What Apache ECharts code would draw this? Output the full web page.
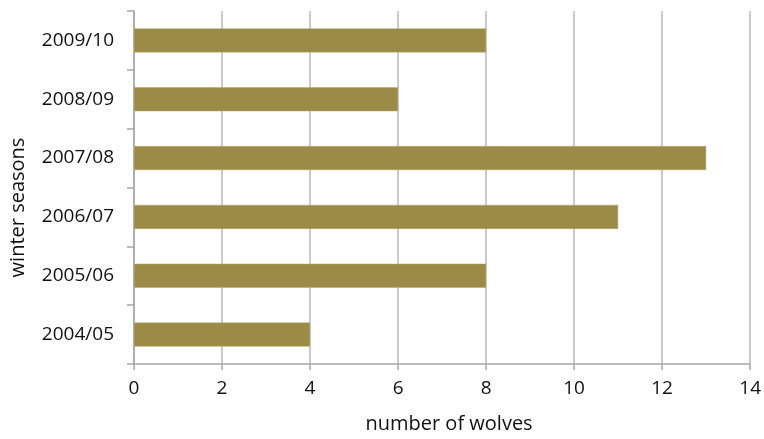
<!DOCTYPE html>
<html>
<head>
<meta charset="utf-8">
<script src="https://cdn.jsdelivr.net/npm/echarts@6/dist/echarts.min.js"></script>
<style>html,body{margin:0;padding:0;background:#fff;}#c{width:764px;height:439px;}</style>
</head>
<body>
<div id="c"></div>
<script>
const categories = ['2004/05', '2005/06', '2006/07', '2007/08', '2008/09', '2009/10'];
const wolves = [4, 8, 11, 13, 6, 8];
const xTicks = { min: 0, max: 14, interval: 2 };
const xName = 'number of wolves';
const yName = 'winter seasons';

const chart = echarts.init(document.getElementById('c'));
const font = '"Open Sans", sans-serif';
chart.setOption({
  animation: false,
  backgroundColor: '#ffffff',
  grid: { left: 133, right: 13, top: 11, bottom: 73 },
  xAxis: {
    type: 'value',
    min: xTicks.min, max: xTicks.max, interval: xTicks.interval,
    name: xName, nameLocation: 'middle', nameGap: 50,
    nameTextStyle: { fontFamily: font, fontSize: 20, color: '#111111', padding: [0, 0, 0, 14] },
    axisLine: { show: true, lineStyle: { color: '#a6a6a6', width: 1.5 } },
    axisTick: { show: true, length: 6, lineStyle: { color: '#a6a6a6', width: 1.5 } },
    axisLabel: { fontFamily: font, fontSize: 19, color: '#111111', margin: 15 },
    splitLine: { show: true, lineStyle: { color: '#b8b8b8', width: 1.5 } }
  },
  yAxis: {
    type: 'category',
    data: categories,
    name: yName, nameLocation: 'middle', nameGap: 106, nameRotate: 90,
    nameTextStyle: { fontFamily: font, fontSize: 20, color: '#111111', padding: [0, 40, 0, 0] },
    axisLine: { show: true, lineStyle: { color: '#a6a6a6', width: 1.5 } },
    axisTick: { show: true, length: 7, alignWithLabel: false, lineStyle: { color: '#a6a6a6', width: 1.5 } },
    axisLabel: { fontFamily: font, fontSize: 19, color: '#111111', margin: 20 },
    splitLine: { show: false }
  },
  series: [{
    type: 'bar',
    data: wolves,
    barWidth: 24,
    itemStyle: { color: '#9b8a48', borderColor: '#b5a66a', borderWidth: 0.5 }
  }]
});
</script>
</body>
</html>
